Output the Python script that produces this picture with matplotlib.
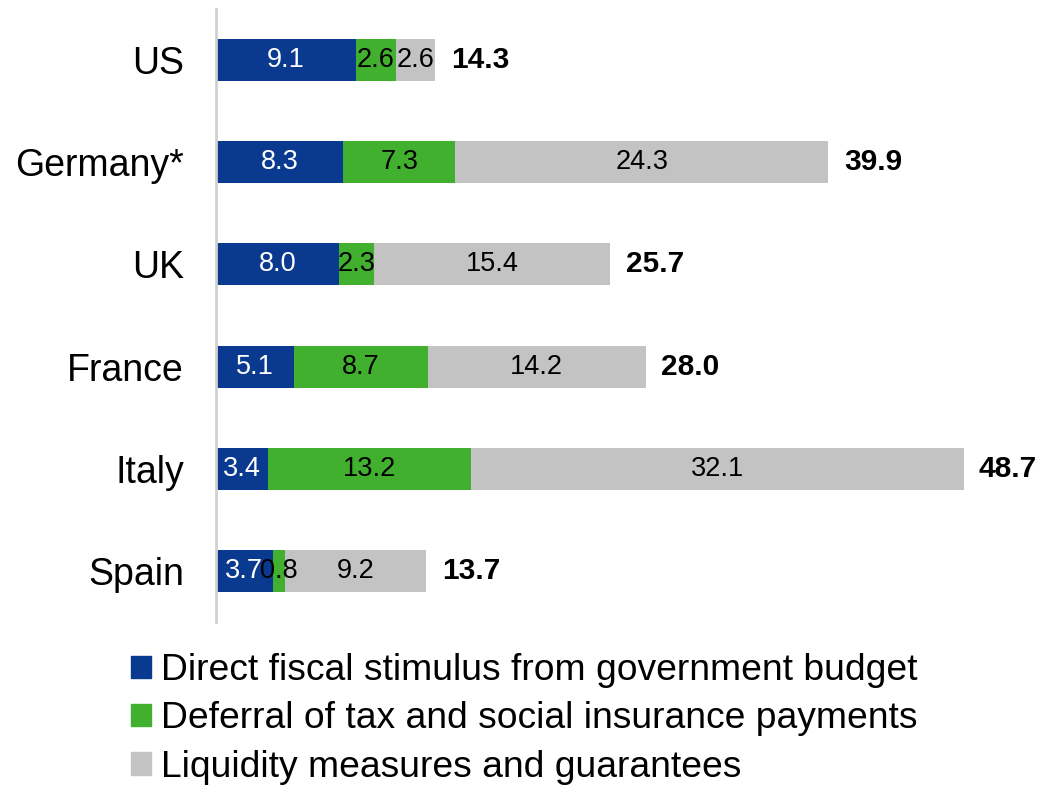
import matplotlib.pyplot as plt
from matplotlib.patches import Patch

plt.rcParams['font.family'] = ['Liberation Sans', 'DejaVu Sans']

countries = ['US', 'Germany*', 'UK', 'France', 'Italy', 'Spain']
direct = [9.1, 8.3, 8.0, 5.1, 3.4, 3.7]
deferral = [2.6, 7.3, 2.3, 8.7, 13.2, 0.8]
liquidity = [2.6, 24.3, 15.4, 14.2, 32.1, 9.2]
totals = [14.3, 39.9, 25.7, 28.0, 48.7, 13.7]

series_names = ['Direct fiscal stimulus from government budget',
                'Deferral of tax and social insurance payments',
                'Liquidity measures and guarantees']
colors = ['#0a3a8f', '#41b02f', '#c3c3c3']
text_colors = ['white', 'black', 'black']

fig = plt.figure(figsize=(10.51, 7.87), dpi=100)
ax = fig.add_axes([216/1051, 1 - 622/787, 835/1051, 613/787])

y = list(range(len(countries)))
left = [0.0] * len(countries)
for vals, col, tc in zip([direct, deferral, liquidity], colors, text_colors):
    ax.barh(y, vals, left=left, height=0.41, color=col)
    for i, v in enumerate(vals):
        ax.text(left[i] + v / 2, i, f'{v:.1f}', ha='center', va='center',
                color=tc, fontsize=19.5)
    left = [l + v for l, v in zip(left, vals)]

for i, t in enumerate(totals):
    ax.text(t + 1.0, i, f'{t:.1f}', ha='left', va='center',
            fontsize=21.5, fontweight='bold')

ax.set_xlim(0, 54.4)
ax.set_ylim(5.5, -0.5)
ax.set_yticks(y)
ax.set_yticklabels(countries, fontsize=27)
ax.tick_params(axis='y', length=0, pad=23)
ax.set_xticks([])
for s in ['top', 'right', 'bottom']:
    ax.spines[s].set_visible(False)
ax.spines['left'].set_color('#d0d0d0')
ax.spines['left'].set_linewidth(2)

handles = [Patch(color=c) for c in colors]
fig.legend(handles, series_names, loc='upper left',
           bbox_to_anchor=(116/1051, 1 - 638/787), frameon=False,
           fontsize=26.8, handlelength=0.55, handleheight=0.55,
           handletextpad=0.25, labelspacing=0.36, borderaxespad=0)

fig.savefig('out.png', dpi=100)
